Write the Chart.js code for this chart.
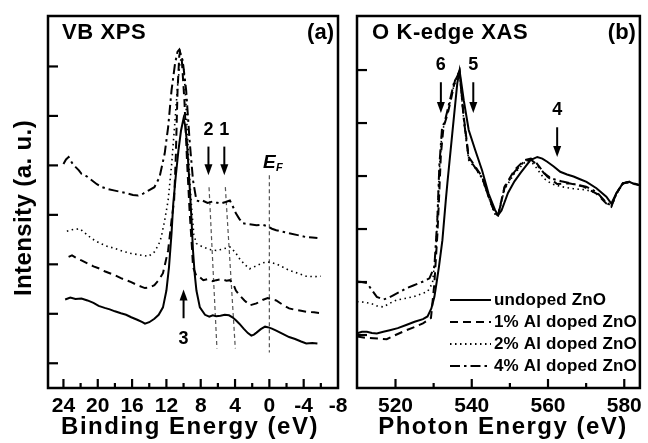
<!DOCTYPE html>
<html><head><meta charset="utf-8">
<script src="https://cdn.jsdelivr.net/npm/chart.js@4.4.0/dist/chart.umd.min.js"></script>
<style>
html,body{margin:0;padding:0;background:#fff;}
body{width:648px;height:443px;position:relative;overflow:hidden;}
#wa{position:absolute;left:0;top:0;width:360px;height:443px;}
#wb{position:absolute;left:346px;top:0;width:302px;height:443px;}
</style></head><body>
<div id="wa"><canvas id="ca"></canvas></div>
<div id="wb"><canvas id="cb"></canvas></div>
<script>
// ---------- DATA ----------
const seriesLabels = ['undoped ZnO', '1% Al doped ZnO', '2% Al doped ZnO', '4% Al doped ZnO'];

// Panel (a) VB XPS: binding energy (eV) and intensity (a.u., offset)
const xpsUndopedE = [23.8,23.2,22.6,21.9,21.2,20.5,19.9,19.2,18.6,18.0,17.3,16.7,16.1,15.4,14.8,14.5,14.0,13.4,12.9,12.4,12.0,11.7,11.4,11.2,10.9,10.6,10.3,10.0,9.8,9.6,9.3,9.07,8.9,8.7,8.5,8.1,7.5,7.0,6.6,6.2,5.7,5.2,4.7,4.3,3.9,3.5,3.0,2.5,2.1,1.8,1.5,1.0,0.5,0.2,-0.3,-0.8,-1.5,-2.3,-3.0,-3.7,-4.3,-5.0,-5.6];
const xpsUndopedI = [1.29,1.33,1.30,1.31,1.27,1.22,1.16,1.12,1.09,1.05,1.01,0.98,0.93,0.88,0.83,0.80,0.83,0.90,0.98,1.13,1.47,1.94,2.63,3.23,3.80,4.30,4.70,4.95,4.80,4.45,3.60,2.89,2.28,1.80,1.47,1.13,0.98,0.94,0.97,0.95,0.96,0.98,0.97,0.93,0.87,0.80,0.70,0.61,0.56,0.58,0.62,0.69,0.74,0.73,0.70,0.66,0.60,0.53,0.49,0.44,0.40,0.41,0.40];

const xps1E = [23.4,23.0,22.4,21.9,21.2,20.5,19.9,19.2,18.6,18.0,17.3,16.7,16.1,15.4,14.8,14.5,14.0,13.4,12.9,12.4,11.8,11.4,11.1,10.9,10.7,10.5,10.4,10.2,9.9,9.6,9.3,9.0,8.9,8.5,8.1,7.7,7.2,6.6,6.2,5.6,5.0,4.6,4.2,3.9,3.4,2.9,2.3,1.9,1.5,0.8,0.2,-0.3,-0.8,-1.5,-2.3,-3.0,-3.7,-4.3,-5.2,-6.2];
const xps1I = [2.15,2.18,2.12,2.08,2.02,1.96,1.92,1.86,1.82,1.78,1.72,1.68,1.64,1.58,1.54,1.52,1.53,1.58,1.68,1.82,2.28,2.89,3.29,4.20,5.52,6.22,6.28,6.12,5.31,4.10,3.09,2.28,1.95,1.76,1.74,1.68,1.70,1.66,1.68,1.70,1.67,1.68,1.60,1.47,1.36,1.27,1.17,1.19,1.21,1.28,1.32,1.29,1.27,1.19,1.11,1.08,1.06,1.04,1.03,1.01];

const xps2E = [23.6,23.0,22.1,21.4,20.7,19.9,19.0,18.0,17.0,16.1,15.1,14.1,13.4,12.9,12.6,12.2,11.8,11.4,11.0,10.7,10.4,10.2,10.0,9.8,9.6,9.4,9.2,9.0,8.8,8.5,8.1,7.7,7.0,6.2,5.4,4.6,4.0,3.5,2.9,2.3,1.5,0.8,0.2,-0.8,-1.5,-2.3,-3.3,-4.3,-5.2,-6.0];
const xps2I = [2.67,2.70,2.72,2.62,2.52,2.44,2.37,2.32,2.26,2.22,2.19,2.16,2.25,2.40,2.55,2.89,3.29,4.00,4.90,5.60,6.10,6.18,6.00,5.50,4.80,4.10,3.50,3.00,2.60,2.42,2.38,2.35,2.30,2.28,2.31,2.35,2.25,2.12,2.00,1.91,1.97,2.03,2.05,2.01,1.95,1.88,1.82,1.76,1.75,1.76];

const xps4E = [24.0,23.7,23.4,23.0,22.6,22.2,21.9,21.3,20.7,20.1,19.5,18.8,18.0,17.2,16.5,15.9,15.3,14.7,14.1,13.4,12.8,12.2,11.8,11.4,11.0,10.7,10.5,10.3,10.1,9.7,9.3,8.9,8.5,8.1,7.8,7.2,6.6,6.2,5.7,5.1,4.6,4.2,3.9,3.5,3.1,2.3,1.5,0.8,0.2,-0.3,-0.8,-1.5,-2.3,-3.3,-4.3,-5.0,-5.6];
const xps4I = [4.03,4.12,4.17,4.05,3.97,3.90,3.83,3.78,3.70,3.62,3.56,3.52,3.49,3.46,3.43,3.40,3.39,3.43,3.49,3.56,3.76,4.24,4.77,5.52,6.05,6.30,6.34,6.22,6.12,5.52,4.51,3.70,3.29,3.27,3.29,3.24,3.27,3.25,3.23,3.26,3.29,3.15,3.03,2.92,2.83,2.81,2.79,2.80,2.77,2.72,2.69,2.66,2.63,2.59,2.55,2.54,2.53];

// dashed reference lines in panel (a): [E top, E bottom], [I top, I bottom]
const refLine2E = [7.03, 6.11];
const refLine1E = [5.13, 3.97];
const refLineEfE = [0, 0];
const refLineI = [3.56, 0.30];
const refLineEfI = [3.80, 0.22];

// Panel (b) O K-edge XAS: photon energy (eV) and intensity (a.u.)
const xasUndopedE = [509.9,511.2,512.5,513.8,515.1,516.8,518.5,520.6,522.8,525.0,527.2,528.4,529.4,530.2,530.8,531.4,532.3,533.2,533.6,534.9,536.2,536.8,537.9,539.2,540.9,542.7,544.4,546.1,546.9,547.8,549.5,551.2,552.8,555.4,557.2,558.5,559.8,561.5,563.2,565.0,566.7,568.4,570.1,572.7,575.3,576.6,577.9,579.6,581.3,582.6,583.9];
const xasUndopedI = [1.03,1.06,1.06,1.04,1.03,1.06,1.09,1.13,1.19,1.25,1.30,1.35,1.50,1.72,2.00,2.29,2.79,3.55,3.86,4.81,5.75,5.99,5.43,4.87,4.49,4.11,3.67,3.36,3.26,3.35,3.68,3.90,4.06,4.30,4.36,4.33,4.27,4.18,4.08,4.03,3.99,3.94,3.89,3.77,3.61,3.48,3.67,3.86,3.89,3.85,3.83];

const xas1E = [509.9,512.0,514.2,516.0,517.7,520.0,522.8,525.0,527.2,529.3,530.2,531.0,531.4,531.9,532.6,533.6,534.5,535.6,536.8,537.9,539.2,540.9,542.7,544.4,546.1,546.9,548.6,551.2,553.8,555.5,556.4,558.0,559.8,562.4,565.8,569.3,572.7,575.3,576.6,577.9,579.6,581.3,583.9];
const xas1I = [0.97,0.95,0.94,0.93,0.92,1.00,1.09,1.15,1.22,1.32,1.98,2.92,3.55,4.40,4.93,5.15,5.43,5.80,5.99,5.12,4.36,4.18,3.99,3.61,3.30,3.26,3.80,4.11,4.30,4.33,4.30,4.15,3.99,3.85,3.86,3.80,3.67,3.48,3.42,3.67,3.86,3.89,3.83];

const xas2E = [509.9,511.6,513.4,515.1,516.8,518.5,520.3,522.5,524.6,526.5,528.4,529.7,530.6,531.0,531.5,532.2,533.0,534.0,535.3,536.8,537.9,539.2,540.9,542.7,544.4,546.1,546.9,548.6,551.2,553.8,555.5,557.0,559.0,561.0,563.5,566.7,570.0,572.7,575.3,576.6,577.9,579.6,581.3,583.9];
const xas2I = [1.63,1.62,1.60,1.55,1.53,1.60,1.66,1.69,1.72,1.77,1.82,1.98,2.60,3.23,4.10,4.85,5.00,5.30,5.70,5.95,5.05,4.30,4.15,3.95,3.60,3.28,3.24,3.75,4.05,4.25,4.28,4.15,3.95,3.85,3.80,3.76,3.74,3.68,3.50,3.42,3.65,3.85,3.88,3.83];

const xas4E = [509.9,511.2,512.5,513.8,515.1,516.8,518.1,519.4,521.0,522.8,524.5,526.3,527.6,528.9,530.2,531.0,531.5,532.2,533.0,534.0,535.3,536.8,537.9,539.2,540.9,542.7,544.4,546.1,546.9,548.6,551.2,553.8,555.5,557.0,559.0,561.0,563.5,566.7,570.0,572.7,575.3,576.6,577.9,579.6,581.3,583.9];
const xas4I = [2.01,2.00,1.98,1.85,1.72,1.67,1.70,1.75,1.81,1.88,1.93,1.98,2.02,2.07,2.29,3.23,4.20,4.90,5.05,5.35,5.75,5.97,5.08,4.33,4.16,3.97,3.62,3.30,3.25,3.78,4.08,4.28,4.31,4.22,4.05,3.95,3.90,3.85,3.80,3.70,3.50,3.44,3.66,3.86,3.89,3.83];

// tick values
const xpsTickStep = 2, xpsLabelEvery = 4;
const xasTickStep = 10, xasLabelEvery = 20;
const xpsYTicks = [0,1,2,3,4,5,6];
const xasYTicks = [1,2,3,4,5,6];

// ---------- STYLE ----------
const FONT = '"Liberation Sans", Arial, Helvetica, sans-serif';
Chart.defaults.font.family = FONT;
Chart.defaults.color = '#000';
const styles = [
  {dash: [], width: 2},
  {dash: [8,5], width: 2},
  {dash: [1.5,3.5], width: 1.6},
  {dash: [10,4,2.5,4], width: 2}
];
const pts = (xs, ys) => xs.map((x, i) => ({x: x, y: ys[i]}));
function curve(i, xs, ys) {
  return {label: seriesLabels[i], data: pts(xs, ys), borderColor: '#000', borderWidth: styles[i].width,
    borderDash: styles[i].dash, pointRadius: 0, fill: false, tension: 0, order: 1};
}
function refLine(xs, ys) {
  return {label: 'ref', data: pts(xs, ys), borderColor: '#555', borderWidth: 1.2, borderDash: [4,3],
    pointRadius: 0, fill: false, tension: 0, order: 2};
}

function drawArrow(ctx, x, yTail, yHead) {
  const dir = yHead > yTail ? 1 : -1;
  ctx.save();
  ctx.setLineDash([]); ctx.strokeStyle = '#000'; ctx.fillStyle = '#000'; ctx.lineWidth = 2;
  ctx.beginPath(); ctx.moveTo(x, yTail); ctx.lineTo(x, yHead - dir * 8); ctx.stroke();
  ctx.beginPath(); ctx.moveTo(x, yHead); ctx.lineTo(x - 4, yHead - dir * 11); ctx.lineTo(x + 4, yHead - dir * 11);
  ctx.closePath(); ctx.fill();
  ctx.restore();
}
function text(ctx, s, x, y, font, align, spacing, baseline) {
  ctx.save(); ctx.font = font; ctx.fillStyle = '#000'; ctx.textAlign = align || 'center';
  ctx.textBaseline = baseline || 'middle';
  if (spacing) ctx.letterSpacing = spacing + 'px';
  ctx.fillText(s, x, y); ctx.restore();
}
function frameAndTicks(chart, yTicks, labelEvery) {
  const {ctx, chartArea: a, scales: {x, y}} = chart;
  ctx.save();
  ctx.setLineDash([]); ctx.strokeStyle = '#000'; ctx.lineWidth = 2.5;
  ctx.strokeRect(a.left, a.top, a.right - a.left, a.bottom - a.top);
  ctx.lineWidth = 2.2;
  x.ticks.forEach(t => {
    const px = x.getPixelForValue(t.value);
    if (px < a.left + 2 || px > a.right - 2) return;
    const major = Math.round(t.value) % labelEvery === 0;
    ctx.beginPath(); ctx.moveTo(px, a.bottom); ctx.lineTo(px, a.bottom - (major ? 9 : 5)); ctx.stroke();
  });
  yTicks.forEach(v => {
    const py = y.getPixelForValue(v);
    ctx.beginPath(); ctx.moveTo(a.left, py); ctx.lineTo(a.left + 10, py); ctx.stroke();
  });
  ctx.restore();
}

const panelA = {
  id: 'panelA',
  afterDraw(chart) {
    const {ctx, chartArea: a, scales: {x, y}} = chart;
    frameAndTicks(chart, xpsYTicks, xpsLabelEvery);
    text(ctx, 'VB XPS', a.left + 14, 33, 'bold 22px ' + FONT, 'left', 0.6);
    text(ctx, '(a)', a.right - 4, 33, 'bold 22px ' + FONT, 'right');
    [[7.1, '2'], [5.25, '1']].forEach(([e, s]) => {
      const px = x.getPixelForValue(e);
      drawArrow(ctx, px, y.getPixelForValue(4.38), y.getPixelForValue(3.80));
      text(ctx, s, px, y.getPixelForValue(4.72), 'bold 18px ' + FONT);
    });
    const p3 = x.getPixelForValue(10.0);
    drawArrow(ctx, p3, y.getPixelForValue(0.91), y.getPixelForValue(1.49));
    text(ctx, '3', p3, y.getPixelForValue(0.50), 'bold 18px ' + FONT);
    const pe = x.getPixelForValue(0);
    text(ctx, 'E', pe, y.getPixelForValue(4.06), 'italic bold 19px ' + FONT);
    text(ctx, 'F', pe + 10, y.getPixelForValue(3.94), 'italic bold 11px ' + FONT);
    // axis titles
    text(ctx, 'Binding Energy (eV)', 190, 434, 'bold 24px ' + FONT, 'center', 1.5, 'alphabetic');
    ctx.save();
    ctx.translate(31, 208); ctx.rotate(-Math.PI / 2);
    text(ctx, 'Intensity (a. u.)', 0, 0, 'bold 24px ' + FONT, 'center', 0.4, 'alphabetic');
    ctx.restore();
  }
};
const panelB = {
  id: 'panelB',
  afterDraw(chart) {
    const {ctx, chartArea: a, scales: {x, y}} = chart;
    frameAndTicks(chart, xasYTicks, xasLabelEvery);
    text(ctx, 'O K-edge XAS', a.left + 15, 33, 'bold 22px ' + FONT, 'left', 0.6);
    text(ctx, '(b)', a.right - 4, 33, 'bold 22px ' + FONT, 'right');
    [[531.9, '6', 5.77, 5.19, 6.09], [540.4, '5', 5.77, 5.19, 6.09], [562.4, '4', 4.92, 4.36, 5.25]].forEach(([e, s, y1, y2, ly]) => {
      const px = x.getPixelForValue(e);
      drawArrow(ctx, px, y.getPixelForValue(y1), y.getPixelForValue(y2));
      text(ctx, s, px, y.getPixelForValue(ly), 'bold 18px ' + FONT);
    });
    // legend
    const rows = [300, 322, 344, 366];
    seriesLabels.forEach((lab, i) => {
      const ry = rows[i];
      ctx.save();
      ctx.strokeStyle = '#000'; ctx.lineWidth = 2; ctx.setLineDash(styles[i].dash);
      ctx.beginPath(); ctx.moveTo(a.left + 93, ry); ctx.lineTo(a.left + 134, ry); ctx.stroke();
      ctx.restore();
      text(ctx, lab, a.left + 137, ry, 'bold 17px ' + FONT, 'left', 0.15);
    });
    text(ctx, 'Photon Energy (eV)', 157, 434, 'bold 24px ' + FONT, 'center', 1.5, 'alphabetic');
  }
};

function axisX(min, max, step, every) {
  return {
    type: 'linear', min: min, max: max,
    grid: {display: false, drawTicks: false}, border: {display: false},
    ticks: {stepSize: step, includeBounds: false, autoSkip: false, maxRotation: 0, padding: 6,
      font: {size: 21, weight: 'bold'}, color: '#000',
      callback: v => (Math.round(v) % every === 0 ? String(Math.round(v)) : '')},
    title: {display: false},
    afterFit: s => { s.height = 55; }
  };
}

new Chart(document.getElementById('ca'), {
  type: 'line',
  data: {datasets: [
    curve(0, xpsUndopedE, xpsUndopedI), curve(1, xps1E, xps1I), curve(2, xps2E, xps2I), curve(3, xps4E, xps4I),
    refLine(refLine2E, refLineI), refLine(refLine1E, refLineI), refLine(refLineEfE, refLineEfI)
  ]},
  options: {
    responsive: true, maintainAspectRatio: false, animation: false, devicePixelRatio: 1,
    layout: {padding: {left: 0, right: 22, top: 16, bottom: 0}},
    plugins: {legend: {display: false}, tooltip: {enabled: false}},
    scales: {
      x: Object.assign(axisX(-8, 25.8, xpsTickStep, xpsLabelEvery), {reverse: true}),
      y: {type: 'linear', min: -0.5, max: 7.02, grid: {display: false, drawTicks: false}, border: {display: false},
        ticks: {display: false, stepSize: 1}, title: {display: false},
        afterFit: s => { s.width = 48; }}
    }
  },
  plugins: [panelA]
});

new Chart(document.getElementById('cb'), {
  type: 'line',
  data: {datasets: [
    curve(0, xasUndopedE, xasUndopedI), curve(1, xas1E, xas1I), curve(2, xas2E, xas2I), curve(3, xas4E, xas4I)
  ]},
  options: {
    responsive: true, maintainAspectRatio: false, animation: false, devicePixelRatio: 1,
    layout: {padding: {left: 0, right: 4, top: 16, bottom: 0}},
    plugins: {legend: {display: false}, tooltip: {enabled: false}},
    scales: {
      x: axisX(509.9, 584.1, xasTickStep, xasLabelEvery),
      y: {type: 'linear', min: 0, max: 7.02, grid: {display: false, drawTicks: false}, border: {display: false},
        ticks: {display: false, stepSize: 1},
        afterFit: s => { s.width = 11; }}
    }
  },
  plugins: [panelB]
});
</script>
</body></html>
